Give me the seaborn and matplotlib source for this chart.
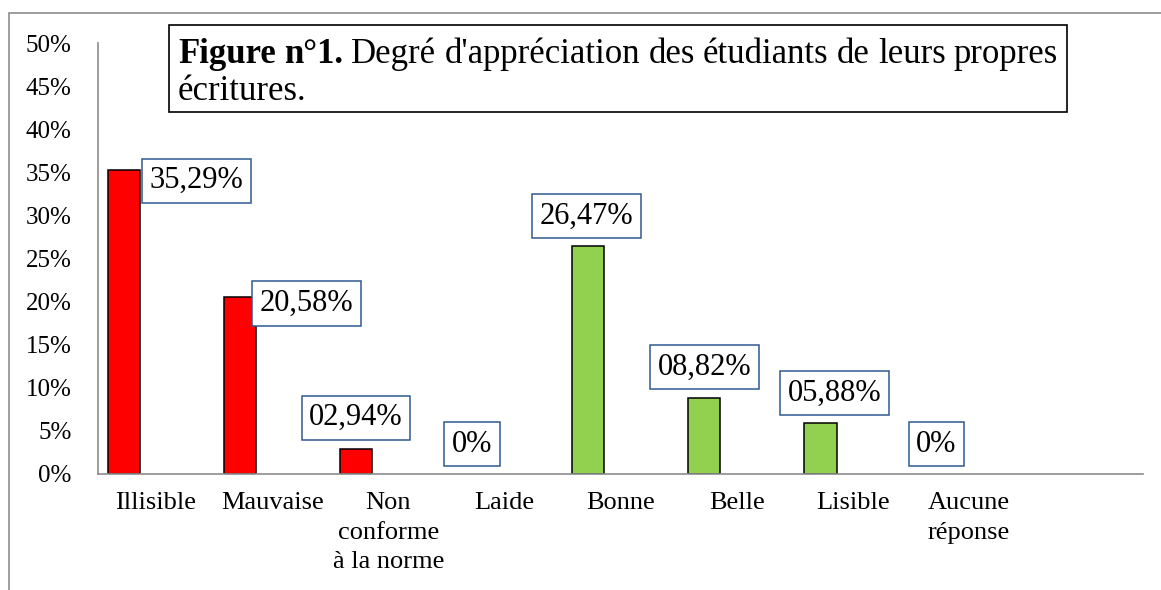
import numpy as np
import matplotlib
matplotlib.use("Agg")
import matplotlib.pyplot as plt
from matplotlib.patches import Rectangle
import seaborn as sns

# data
categories = ["Illisible", "Mauvaise", "Non\nconforme\nà la norme", "Laide",
              "Bonne", "Belle", "Lisible", "Aucune\nréponse"]
values = [35.29, 20.58, 2.94, 0.0, 26.47, 8.82, 5.88, 0.0]
value_labels = ["35,29%", "20,58%", "02,94%", "0%", "26,47%", "08,82%", "05,88%", "0%"]
bar_colors = ["#FF0000"] * 4 + ["#92D050"] * 4
y_ticks = [0, 5, 10, 15, 20, 25, 30, 35, 40, 45, 50]

title_bold = ["Figure", "n°1."]
title_line1 = ["Degré", "d'appréciation", "des", "étudiants", "de", "leurs", "propres"]
title_line2 = "écritures."

# label box offsets from bar top (pixels)
label_offsets = [(73, -11), (67, -7), (0, 31), (0, 30), (-2, 30), (0, 31), (14, 30), (0, 30)]

W, H = 1161, 590
sns.set_style("white")
plt.rcParams["font.family"] = ["Liberation Serif", "DejaVu Serif"]
for k in ["text.color", "xtick.color", "ytick.color", "axes.labelcolor"]:
    plt.rcParams[k] = "black"

fig = plt.figure(figsize=(W / 100, H / 100), dpi=100)
ax = fig.add_axes([98 / W, 1 - 474 / H, (1143 - 98) / W, (474 - 43) / H])

idx = list(range(len(categories)))
sns.barplot(x=idx, y=values, hue=idx, palette=bar_colors, saturation=1,
            width=0.278, edgecolor="black", linewidth=1.1,
            legend=False, dodge=False, ax=ax)
for p in ax.patches:
    if p.get_height() == 0:
        p.set_visible(False)

# bars sit in the left part of each category slot
shift = 0.278
ax.set_xlim(-0.5 + shift, 8.5 + shift)
ax.set_xticks(np.arange(len(categories)) + shift, categories, fontsize=19,
              multialignment="center")
for lbl in ax.get_xticklabels():
    lbl.set_linespacing(1.45)
ax.set_ylim(0, 50)
ax.set_yticks(y_ticks, [f"{t}%" for t in y_ticks], fontsize=18)
ax.tick_params(axis="y", length=0, pad=19)
ax.tick_params(axis="x", length=0, pad=13)
ax.set_xlabel("")
ax.set_ylabel("")
for s in ["top", "right"]:
    ax.spines[s].set_visible(False)
for s in ["left", "bottom"]:
    ax.spines[s].set_color("#8c8c8c")
    ax.spines[s].set_linewidth(1.2)

for i, (v, lab) in enumerate(zip(values, value_labels)):
    dx, dy = label_offsets[i]
    ax.annotate(lab, xy=(i, v), xytext=(dx, dy), textcoords="offset pixels",
                ha="center", va="center", fontsize=22, zorder=5,
                bbox=dict(boxstyle="square,pad=0.25", fc="white", ec="#2F5A91", lw=1.1))

# outer chart-area frame (cropped on the right and bottom)
fig.add_artist(Rectangle((9 / W, -0.2), 1.2, 1.2 - 13 / H, transform=fig.transFigure,
                         fill=False, ec="#8c8c8c", lw=1.2, clip_on=False))

# title box
fig.add_artist(Rectangle((169 / W, 1 - 112 / H), (1067 - 169) / W, (112 - 25) / H,
                         transform=fig.transFigure, fc="white", ec="black", lw=1.2,
                         zorder=3))

# justified first title line
fig.canvas.draw()
renderer = fig.canvas.get_renderer()
words = [(w, "bold") for w in title_bold] + [(w, "normal") for w in title_line1]
texts = []
for w, weight in words:
    t = fig.text(0, 1 - 63 / H, w, fontsize=25, fontweight=weight, va="baseline", zorder=4)
    texts.append(t)
widths = [t.get_window_extent(renderer).width for t in texts]
left, right = 178, 1058
gap = (right - left - sum(widths)) / (len(texts) - 1)
x = left
for t, wd in zip(texts, widths):
    t.set_x(x / W)
    x += wd + gap
fig.text(178 / W, 1 - 100 / H, title_line2, fontsize=25, va="baseline", zorder=4)

fig.savefig("out.png", dpi=100, facecolor="white")
